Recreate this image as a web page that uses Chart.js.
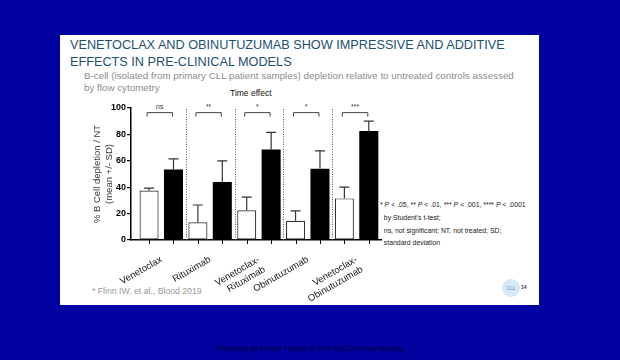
<!DOCTYPE html>
<html>
<head>
<meta charset="utf-8">
<script src="https://cdn.jsdelivr.net/npm/chart.js@4"></script>
<style>
  html, body { margin: 0; padding: 0; }
  body { width: 620px; height: 360px; background: #0202a0; position: relative; overflow: hidden;
         font-family: "Liberation Sans", Arial, sans-serif; }
  #slide { position: absolute; left: 60px; top: 35px; width: 479px; height: 270px; background: #fff; }
  .abs { position: absolute; white-space: nowrap; }
  #title { left: 70px; top: 37px; font-size: 12.7px; line-height: 17px; color: #1d4f72; }
  #sub { left: 84px; top: 70px; font-size: 9.8px; line-height: 12px; color: #8c8c8c; }
  #timefx { left: 230px; top: 88px; font-size: 8.5px; color: #111; }
  #notes { left: 380px; top: 199px; font-size: 6.9px; line-height: 12.8px; color: #222; }
  #ref { left: 92px; top: 286px; font-size: 8.7px; color: #999; }
  #logo { left: 502px; top: 279px; width: 18px; height: 18px; border-radius: 50%; background: #d7e9f7;
          font-size: 5px; color: #5a8fc0; text-align: center; line-height: 18px; }
  #logo14 { left: 521px; top: 284px; font-size: 5px; font-weight: bold; color: #333; }
  #presenter { left: 0; width: 620px; top: 345px; text-align: center; font-size: 7px; color: #000030; }
  #wrap { position: absolute; left: 62px; top: 90px; width: 322px; height: 224px; }
</style>
</head>
<body>
<div id="slide"></div>
<div class="abs" id="title">VENETOCLAX AND OBINUTUZUMAB SHOW IMPRESSIVE AND ADDITIVE<br>EFFECTS IN PRE-CLINICAL MODELS</div>
<div class="abs" id="sub">B-cell (isolated from primary CLL patient samples) depletion relative to untreated controls assessed<br>by flow cytometry</div>
<div class="abs" id="timefx">Time effect</div>
<div class="abs" id="notes">* <i>P</i> &lt; .05, ** <i>P</i> &lt; .01, *** <i>P</i> &lt; .001, **** <i>P</i> &lt; .0001<br>&nbsp;&nbsp;by Student's t-test;<br>&nbsp;&nbsp;ns, not significant; NT, not treated; SD;<br>&nbsp;&nbsp;standard deviation</div>
<div class="abs" id="ref">* Flinn IW. et al., Blood 2019</div>
<div class="abs" id="logo">CLL</div>
<div class="abs" id="logo14">14</div>
<div class="abs" id="presenter">Presented By Kirsten Fischer at 2019 ASCO Annual Meeting</div>
<div id="wrap"><canvas id="chart" width="322" height="224"></canvas></div>

<script>
// data
const groups = ['Venetoclax', 'Rituximab', ['Venetoclax-', 'Rituximab'], 'Obinutuzumab', ['Venetoclax-', 'Obinutuzumab']];
const earlyMean = [37.5, 13.5, 22.5, 14.5, 31.5];   // white bars
const earlySD   = [1.8, 13, 10, 7.5, 8.5];
const lateMean  = [53.5, 44, 68.5, 54, 82.5];       // black bars
const lateSD    = [8, 16, 13, 13.5, 7.5];
const signif    = ['ns', '**', '*', '*', '***'];
const yTicks    = [0, 20, 40, 60, 80, 100];

const ctx = document.getElementById('chart').getContext('2d');

// error bars (upper only), brackets, group separators and x tick marks
const extras = {
    id: 'extras',
    afterDatasetsDraw(chart) {
        const c = chart.ctx;
        const y = chart.scales.y;
        const x = chart.scales.x;
        const area = chart.chartArea;
        const sds = [earlySD, lateSD];
        c.save();
        chart.data.datasets.forEach((ds, di) => {
            const meta = chart.getDatasetMeta(di);
            meta.data.forEach((bar, i) => {
                const top = y.getPixelForValue(ds.data[i].y + sds[di][i]);
                c.strokeStyle = '#333';
                c.lineWidth = 1.2;
                c.beginPath();
                c.moveTo(bar.x, bar.y);
                c.lineTo(bar.x, top);
                c.moveTo(bar.x - 5, top);
                c.lineTo(bar.x + 5, top);
                c.stroke();
            });
        });
        // separators between groups
        c.strokeStyle = '#555';
        c.lineWidth = 1;
        c.setLineDash([1, 1.5]);
        for (let i = 0; i < groups.length - 1; i++) {
            const px = Math.round(x.getPixelForValue(i + 0.5)) + 0.5;
            c.beginPath();
            c.moveTo(px, area.bottom);
            c.lineTo(px, area.top);
            c.stroke();
        }
        c.setLineDash([]);
        // significance brackets
        const m0 = chart.getDatasetMeta(0), m1 = chart.getDatasetMeta(1);
        const by = y.getPixelForValue(96.5);
        c.strokeStyle = '#444';
        c.lineWidth = 1;
        c.fillStyle = '#333';
        c.font = '7px "Liberation Sans", Arial, sans-serif';
        c.textAlign = 'center';
        c.textBaseline = 'bottom';
        signif.forEach((s, i) => {
            const x0 = m0.data[i].x - 2, x1 = m1.data[i].x - 1;
            c.beginPath();
            c.moveTo(x0, by + 4);
            c.lineTo(x0, by);
            c.lineTo(x1, by);
            c.lineTo(x1, by + 4);
            c.stroke();
            c.fillText(s, (x0 + x1) / 2, by - 2);
        });
        // x tick marks under each bar
        c.strokeStyle = '#000';
        c.lineWidth = 1;
        [m0, m1].forEach(m => m.data.forEach(bar => {
            const px = Math.round(bar.x) + 0.5;
            c.beginPath();
            c.moveTo(px, area.bottom);
            c.lineTo(px, area.bottom + 4);
            c.stroke();
        }));
        c.restore();
    }
};

new Chart(ctx, {
    type: 'bar',
    data: {
        datasets: [
            {
                label: 'Early',
                data: earlyMean.map((v, i) => ({ x: i, y: v })),
                backgroundColor: '#ffffff',
                borderColor: '#333',
                borderWidth: 1.2,
                borderSkipped: false
            },
            {
                label: 'Late',
                data: lateMean.map((v, i) => ({ x: i, y: v })),
                backgroundColor: '#000000',
                borderColor: '#000',
                borderWidth: 0
            }
        ]
    },
    options: {
        responsive: false,
        animation: false,
        categoryPercentage: 1.0,
        barPercentage: 0.78,
        layout: { padding: { left: 0, right: 3, top: 18, bottom: 0 } },
        plugins: { legend: { display: false }, tooltip: { enabled: false } },
        scales: {
            x: {
                type: 'linear',
                offset: false,
                min: -0.62,
                max: 4.5,
                afterFit: s => { s.height = 74; },
                afterBuildTicks: s => { s.ticks = groups.map((g, i) => ({ value: i })); },
                grid: { display: false },
                border: { display: true, color: '#000', width: 1.5 },
                ticks: {
                    autoSkip: false,
                    minRotation: 30,
                    maxRotation: 30,
                    padding: 6,
                    color: '#111',
                    font: { family: '"Liberation Sans", Arial, sans-serif', size: 9.5 },
                    callback: v => groups[v]
                }
            },
            y: {
                min: 0,
                max: 100,
                afterFit: s => { s.width = 69; },
                afterBuildTicks: s => { s.ticks = yTicks.map(v => ({ value: v })); },
                grid: { drawOnChartArea: false, drawTicks: true, tickLength: 4, color: '#000', lineWidth: 1.2 },
                border: { display: true, color: '#000', width: 1.5 },
                ticks: {
                    padding: 1,
                    color: '#000',
                    font: { family: '"Liberation Sans", Arial, sans-serif', size: 9, weight: 'bold' }
                },
                title: {
                    display: true,
                    text: ['% B Cell depletion / NT', '(mean +/- SD)'],
                    color: '#3a3a3a',
                    padding: { top: 29 },
                    font: { family: '"Liberation Sans", Arial, sans-serif', size: 9.5, lineHeight: 1.3 }
                }
            }
        }
    },
    plugins: [extras]
});
</script>
</body>
</html>
